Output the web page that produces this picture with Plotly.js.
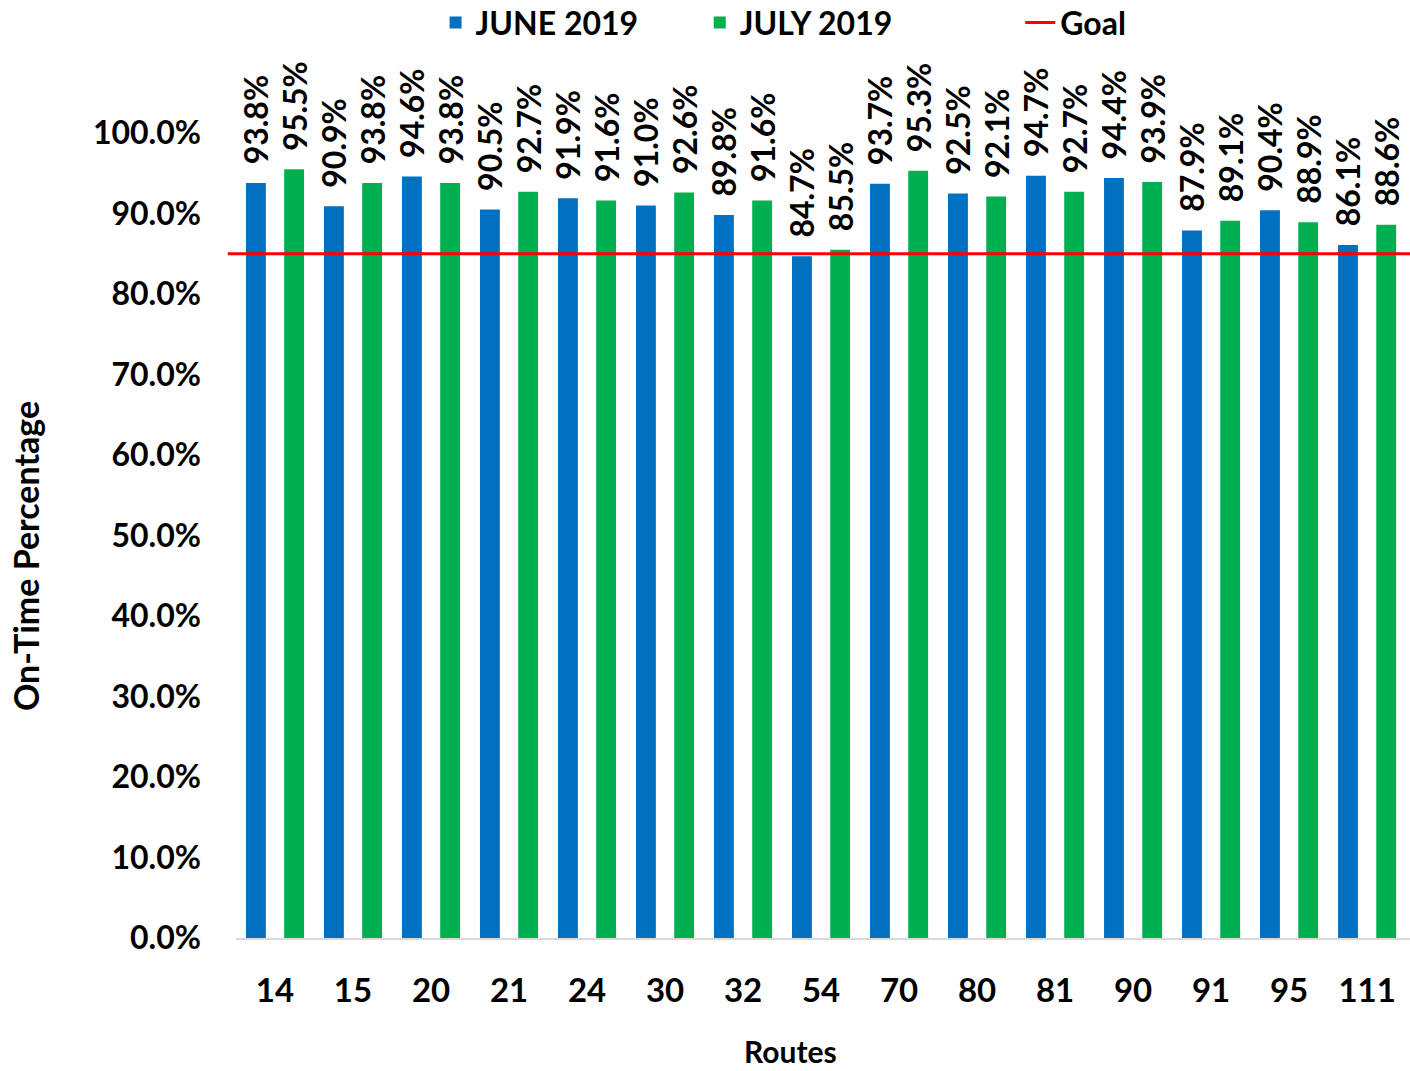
<!DOCTYPE html>
<html>
<head>
<meta charset="utf-8">
<script src="https://cdn.plot.ly/plotly-3.0.1.min.js"></script>
<style>html,body{margin:0;padding:0;background:#fff;}#chart{width:1410px;height:1071px;}</style>
</head>
<body>
<div id="chart"></div>
<script>
const routes = ["14","15","20","21","24","30","32","54","70","80","81","90","91","95","111"];
const june2019 = [0.938,0.909,0.946,0.905,0.919,0.910,0.898,0.847,0.937,0.925,0.947,0.944,0.879,0.904,0.861];
const july2019 = [0.955,0.938,0.938,0.927,0.916,0.926,0.916,0.855,0.953,0.921,0.927,0.939,0.891,0.889,0.886];
const goal = 0.85;
const yTickVals = [0,0.1,0.2,0.3,0.4,0.5,0.6,0.7,0.8,0.9,1.0];

const FONT = "Lato, 'Liberation Sans', sans-serif";
const labelFont = {family: FONT, size: 32, color: "#000", weight: "bold"};
const NB = "\u00a0";

function pct(v){ return NB + NB + (v*100).toFixed(1) + "%"; }

const legendFont = {family: FONT, size: 32, color: "#000", weight: "bold"};
function legendAt(x){
  return {orientation: "h", x: x, xanchor: "left", y: 1.137, yanchor: "middle",
          font: legendFont, itemwidth: 30, bgcolor: "rgba(0,0,0,0)"};
}

const traces = [
  {
    type: "bar", name: "JUNE 2019", x: routes, y: june2019,
    marker: {color: "#0070C0"}, legend: "legend",
    text: june2019.map(pct), textposition: "outside", textangle: -90,
    textfont: labelFont, cliponaxis: false, constraintext: "none",
    hoverinfo: "x+y"
  },
  {
    type: "bar", name: "JULY 2019", x: routes, y: july2019,
    marker: {color: "#00B050"}, legend: "legend2",
    text: july2019.map(pct), textposition: "outside", textangle: -90,
    textfont: labelFont, cliponaxis: false, constraintext: "none",
    hoverinfo: "x+y"
  }
];

const titleFont = {family: FONT, size: 34, color: "#000", weight: "bold"};

const layout = {
  width: 1410, height: 1071,
  margin: {l: 236, r: 0, t: 133, b: 133, pad: 0, autoexpand: false},
  paper_bgcolor: "#fff", plot_bgcolor: "#fff",
  font: {family: FONT, color: "#000"},
  barmode: "group", bargap: 0.02, bargroupgap: 0.48,
  showlegend: true,
  legend: legendAt(0.17),
  legend2: legendAt(0.395),
  legend3: legendAt(0.668),
  xaxis: {
    type: "category", range: [-0.5, 14.55],
    showgrid: false, zeroline: false,
    showline: true, linecolor: "#D9D9D9", linewidth: 2,
    ticks: "", ticklabelstandoff: 22,
    tickfont: {family: FONT, size: 33, color: "#000", weight: "bold"}
  },
  yaxis: {
    range: [0, 1.0], tickvals: yTickVals, tickformat: ".1%",
    showgrid: false, zeroline: false, showline: false,
    ticks: "", ticklabelstandoff: 34,
    tickfont: {family: FONT, size: 32, color: "#000", weight: "bold"}
  },
  annotations: [
    {text: "On-Time Percentage", xref: "paper", yref: "paper", x: -0.1797, y: 0.4745,
     xanchor: "center", yanchor: "middle", textangle: -90, showarrow: false, font: titleFont},
    {text: "Routes", xref: "paper", yref: "paper", x: 0.4719, y: -0.1404,
     xanchor: "center", yanchor: "middle", showarrow: false, borderpad: 0,
     font: {family: FONT, size: 30, color: "#000", weight: "bold"}}
  ],
  shapes: [
    {
      type: "line", xref: "paper", yref: "y",
      x0: -0.007, x1: 1, y0: goal, y1: goal,
      line: {color: "#FF0000", width: 3},
      showlegend: true, name: "Goal", legend: "legend3", layer: "above"
    }
  ]
};

Plotly.newPlot("chart", traces, layout, {displayModeBar: false, staticPlot: true});
</script>
</body>
</html>
